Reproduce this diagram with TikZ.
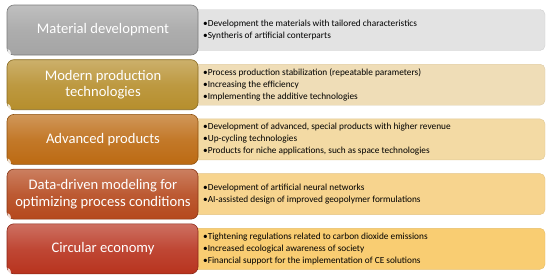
\documentclass[tikz,border=0pt]{standalone}
\usepackage{fontspec}
\setmainfont{Carlito}
\begin{document}
\begin{tikzpicture}[x=1pt,y=-1pt,
  leftbox/.style={rounded corners=7pt, draw=#1!75!black, line width=0.6pt, top color=#1!70!white, bottom color=#1, middle color=#1!90!white},
  rightbox/.style={rounded corners=5pt, fill=#1, draw=#1!92!black, line width=0.4pt},
  lefttext/.style={text=white, font=\fontsize{14.6}{16.5}\selectfont, align=center},
  righttext/.style={font=\fontsize{9.3}{12}\selectfont, align=left, anchor=west, inner sep=0pt}]
\useasboundingbox (0,0) rectangle (550,279);
\definecolor{lA}{HTML}{A4A4A4}
\definecolor{lB}{HTML}{B68E2C}
\definecolor{lC}{HTML}{BC6A12}
\definecolor{lD}{HTML}{B5481C}
\definecolor{lE}{HTML}{B8331E}
\definecolor{rA}{HTML}{E3E3E3}
\definecolor{rB}{HTML}{EFDDB7}
\definecolor{rC}{HTML}{F3DAA4}
\definecolor{rD}{HTML}{F7D48E}
\definecolor{rE}{HTML}{F9CD72}
\foreach \i/\lc/\rc in {0/lA/rA,1/lB/rB,2/lC/rC,3/lD/rD,4/lE/rE}{
  \pgfmathsetmacro{\t}{5+54.7*\i}
  \draw[rightbox=\rc] (185,\t+4.5) rectangle (545,\t+45.5);
  \draw[leftbox=\lc] (7,\t) rectangle (198,\t+50);
  \fill[white,opacity=0.8] (7.5,\t+44) .. controls (9,\t+44) and (11,\t+46) .. (11,\t+49.5) -- (10,\t+49.5) .. controls (8,\t+49.5) and (7.5,\t+48) .. (7.5,\t+46) -- cycle;
}
\node[lefttext] (m1) at (103,30) {Material development};
\node[lefttext] (m2) at (103,84.7) {Modern production\\technologies};
\node[lefttext] (m3) at (103,139.4) {Advanced products};
\node[lefttext] (m4) at (103,194.1) {Data-driven modeling for\\optimizing process conditions};
\node[lefttext] (m5) at (103,248.8) {Circular economy};
\node[righttext] (d1) at (203,30) {•Development the materials with tailored characteristics\\•Syntheris of artificial conterparts};
\node[righttext] (d2) at (203,84.7) {•Process production stabilization (repeatable parameters)\\•Increasing the efficiency\\•Implementing the additive technologies};
\node[righttext] (d3) at (203,139.4) {•Development of advanced, special products with higher revenue\\•Up-cycling technologies\\•Products for niche applications, such as space technologies};
\node[righttext] (d4) at (203,194.1) {•Development of artificial neural networks\\•AI-assisted design of improved geopolymer formulations};
\node[righttext] (d5) at (203,248.8) {•Tightening regulations related to carbon dioxide emissions\\•Increased ecological awareness of society\\•Financial support for the implementation of CE solutions};
\end{tikzpicture}
\end{document}
